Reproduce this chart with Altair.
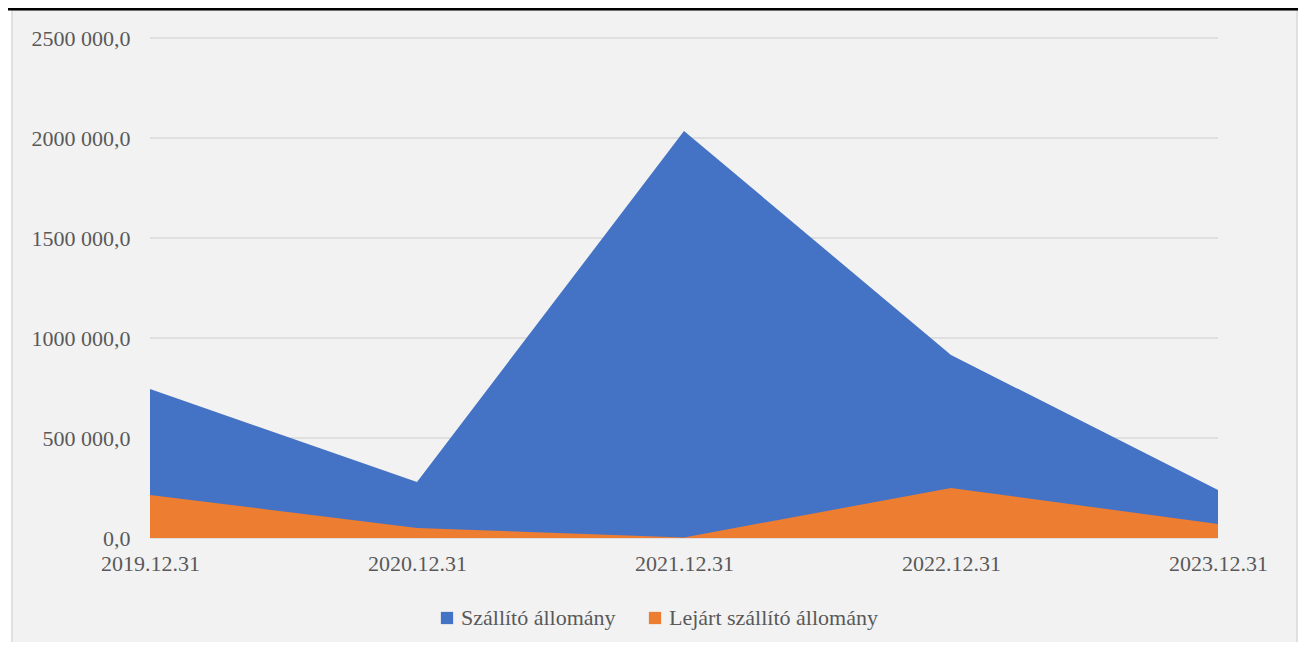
import altair as alt
import pandas as pd

dates = ["2019.12.31", "2020.12.31", "2021.12.31", "2022.12.31", "2023.12.31"]
szallito = [745000, 280000, 2035000, 915000, 240000]
lejart = [215000, 50000, 3000, 250000, 70000]
series = ["Szállító állomány", "Lejárt szállító állomány"]
colors = ["#4472C4", "#ED7D31"]
y_ticks = [0, 500000, 1000000, 1500000, 2000000, 2500000]

FONT = "Liberation Serif"
GREY = "#595959"

df_a = pd.DataFrame({"date": dates, "value": szallito, "series": series[0]})
df_b = pd.DataFrame({"date": dates, "value": lejart, "series": series[1]})
df_grid = pd.DataFrame({"value": y_ticks})

color = alt.Color(
    "series:N",
    scale=alt.Scale(domain=series, range=colors),
    legend=alt.Legend(
        title=None,
        orient="none",
        direction="horizontal",
        legendX=286,
        legendY=569,
        symbolType="square",
        symbolSize=150,
        symbolStrokeWidth=0,
        labelFont=FONT,
        labelFontSize=22,
        labelColor=GREY,
        labelOffset=3,
        labelLimit=0,
        columnPadding=28,
    ),
)

x = alt.X(
    "date:N",
    sort=dates,
    scale=alt.Scale(type="point", padding=0),
    axis=alt.Axis(
        title=None,
        labelAngle=0,
        labelFont=FONT,
        labelFontSize=22,
        labelColor=GREY,
        labelPadding=15,
        ticks=False,
        domain=False,
        grid=False,
        zindex=1,
    ),
)
yscale = alt.Scale(domain=[0, 2500000], nice=False)
y = alt.Y(
    "value:Q",
    scale=yscale,
    stack=None,
    axis=alt.Axis(
        title=None,
        values=y_ticks,
        labelExpr="datum.value == 0 ? '0,0' : format(floor(datum.value/1000),'d') + ' ' + format(datum.value % 1000, '03d') + ',0'",
        labelFont=FONT,
        labelFontSize=22,
        labelColor=GREY,
        labelPadding=20,
        ticks=False,
        domain=False,
        grid=False,
        zindex=1,
    ),
)

frame = alt.Chart(pd.DataFrame({"a": [0]})).mark_rect(
    fill="#f2f2f2", stroke="#d9d9d9", strokeWidth=1.5
).encode(
    x=alt.value(-138), x2=alt.value(1147), y=alt.value(-28), y2=alt.value(700)
)
topline = alt.Chart(pd.DataFrame({"a": [0]})).mark_rule(
    color="black", strokeWidth=3
).encode(
    x=alt.value(-160), x2=alt.value(1170), y=alt.value(-29)
)
grid = alt.Chart(df_grid).mark_rule(color="#d9d9d9", strokeWidth=1.5).encode(
    y=y,
    x=alt.value(0),
    x2=alt.value(1068),
)

area_a = alt.Chart(df_a).mark_area(opacity=1).encode(x=x, y=y, color=color)
area_b = alt.Chart(df_b).mark_area(opacity=1).encode(x=x, y=y, color=color)

chart = alt.layer(frame, topline, grid, area_a, area_b).properties(
    width=1068,
    height=500,
    padding={"left": 142, "top": 30, "right": 80, "bottom": 104},
    autosize=alt.AutoSizeParams(type="none"),
    background="white",
).configure_view(stroke=None)

chart.save("out.html", embed_options={"renderer": "svg", "actions": False})
